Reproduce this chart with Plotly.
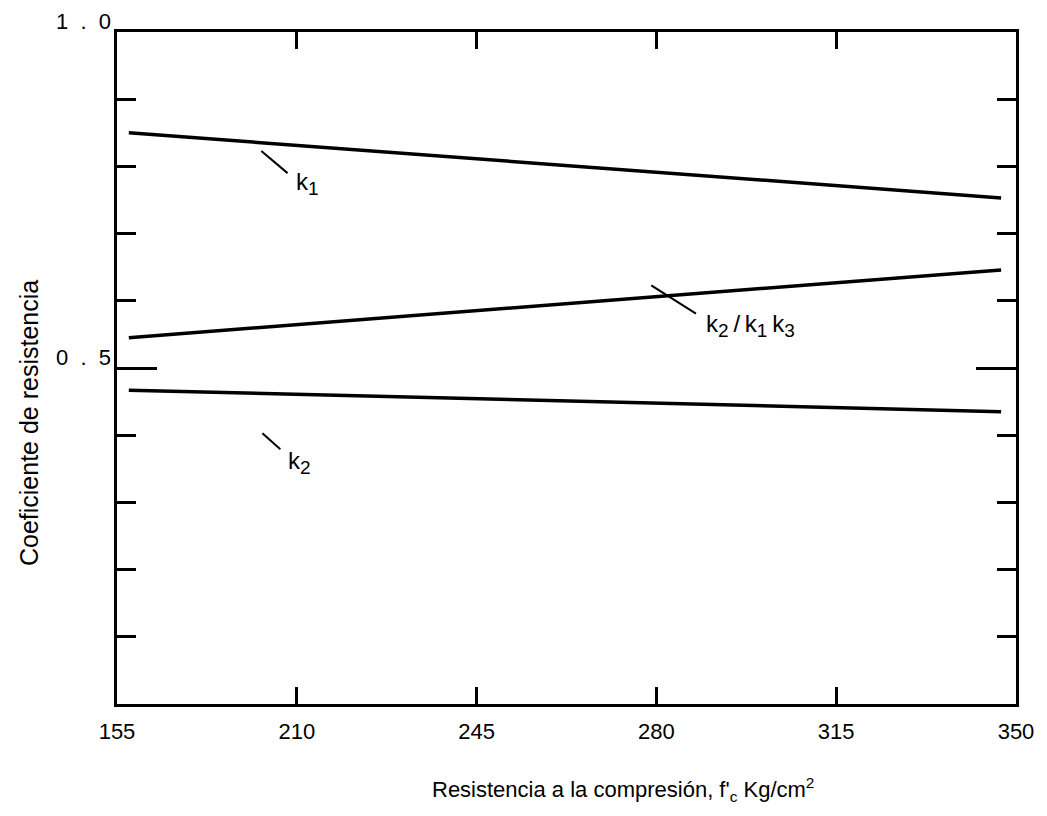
import plotly.graph_objects as go

# x positions on a linear scale (label text differs at the left end)
x_tickvals = [175, 210, 245, 280, 315, 350]
x_ticktext = ["155", "210", "245", "280", "315", "350"]

x_line = [177.3, 347.1]
k1 = [0.850, 0.753]
k2_k1k3 = [0.545, 0.646]
k2 = [0.467, 0.435]

y_labels_vals = [1.0, 0.5]
y_labels_text = ["1\u00a0\u00a0.\u00a0\u00a00", "0\u00a0\u00a0.\u00a0\u00a05"]

FONT = "Liberation Sans, Arial, sans-serif"

fig = go.Figure()
for ys in (k1, k2_k1k3, k2):
    fig.add_trace(go.Scatter(x=x_line, y=ys, mode="lines",
                             line=dict(color="black", width=3.5),
                             showlegend=False, hoverinfo="skip"))

# leader lines for labels
leaders = [
    ([203.1, 208.2], [0.823, 0.790]),
    ([279.0, 287.7], [0.623, 0.581]),
    ([203.3, 206.8], [0.403, 0.379]),
]
for lx, ly in leaders:
    fig.add_trace(go.Scatter(x=lx, y=ly, mode="lines",
                             line=dict(color="black", width=2),
                             showlegend=False, hoverinfo="skip"))


def sub(d):
    return "<sub><span style='font-size:19px'>%s</span></sub>" % d


T = "\u2009"
labels = [
    (209.5, 0.774, "k" + sub("1")),
    (289.3, 0.563, "k" + sub("2") + T + "/" + T + "k" + sub("1") + T + "k" + sub("3")),
    (207.8, 0.360, "k" + sub("2")),
]
for lx, ly, t in labels:
    fig.add_annotation(x=lx, y=ly, text=t, showarrow=False, xanchor="left",
                       yanchor="middle", font=dict(family=FONT, size=24, color="black"))

for v, t in zip(y_labels_vals, y_labels_text):
    fig.add_annotation(xref="paper", x=0, y=v, text=t, showarrow=False,
                       xanchor="right", xshift=-4, yshift=11,
                       font=dict(family=FONT, size=22, color="black"))

fig.add_annotation(xref="paper", yref="paper", x=-0.115, y=0.4175,
                   text="Coeficiente de resistencia", textangle=-90,
                   showarrow=False, font=dict(family=FONT, size=25, color="black"))
fig.add_annotation(xref="paper", yref="paper", x=0.563, y=-0.127,
                   text="Resistencia a la compresión, f'<sub>c</sub> Kg/cm<sup>2</sup>",
                   showarrow=False, yanchor="middle",
                   font=dict(family=FONT, size=22, color="black"))

fig.update_layout(
    width=1038, height=800,
    margin=dict(l=109, r=24, t=24, b=104),
    paper_bgcolor="white", plot_bgcolor="white",
    xaxis=dict(range=[175, 350], tickvals=x_tickvals, ticktext=x_ticktext,
               ticks="inside", ticklen=17, tickwidth=2.5, tickcolor="black",
               showline=True, linecolor="black", linewidth=3, mirror="ticks",
               showgrid=False, zeroline=False, ticklabelstandoff=6,
               tickfont=dict(family=FONT, size=22, color="black")),
    yaxis=dict(range=[0, 1.0], tickvals=[0.5], ticks="inside", ticklen=40,
               tickwidth=2.5, tickcolor="black", showticklabels=False,
               minor=dict(tickvals=[0.1, 0.2, 0.3, 0.4, 0.6, 0.7, 0.8, 0.9],
                          ticks="inside", ticklen=19, tickwidth=2.5, tickcolor="black"),
               showline=True, linecolor="black", linewidth=3, mirror="ticks",
               showgrid=False, zeroline=False),
)

fig.write_html("out.html")
